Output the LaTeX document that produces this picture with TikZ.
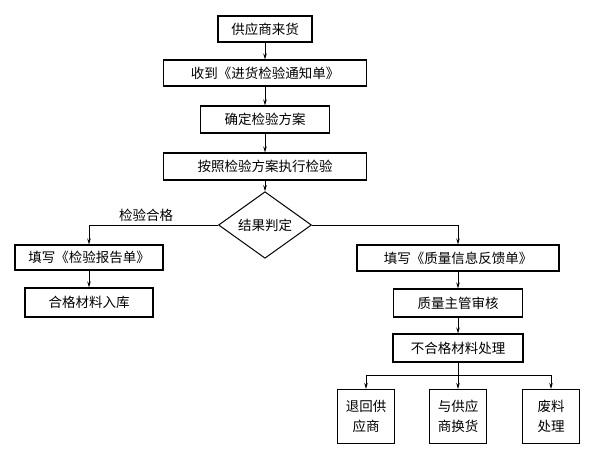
\documentclass[tikz,border=0pt]{standalone}
\usepackage{fontspec}
\setmainfont{Noto Sans CJK SC}
\usetikzlibrary{arrows.meta,shapes.geometric}
\begin{document}
\begin{tikzpicture}[x=1pt,y=-1pt,
  box/.style={draw,line width=1.1pt,inner sep=0pt,font=\fontsize{13.5}{15}\selectfont},
  sbox/.style={box,minimum width=57,minimum height=54,align=center,font=\fontsize{13.5}{20}\selectfont},
  conn/.style={draw,line width=0.7pt,-{Stealth[length=6pt,width=3.5pt]}},
  plain/.style={draw,line width=0.7pt}]
\useasboundingbox (0,0) rectangle (592,451);
\node[box,minimum width=94,minimum height=26] (b1) at (265,29) {供应商来货};
\node[box,minimum width=203,minimum height=26] (b2) at (265,73) {收到《进货检验通知单》};
\node[box,minimum width=129,minimum height=27] (b3) at (265,119.5) {确定检验方案};
\node[box,minimum width=203,minimum height=27] (b4) at (265,166.5) {按照检验方案执行检验};
\node[box,line width=1pt,shape=diamond,minimum width=93,minimum height=56] (d) at (265,225) {结果判定};
\node[box,minimum width=148,minimum height=25] (l1) at (89,257.5) {填写《检验报告单》};
\node[box,minimum width=128,minimum height=29] (l2) at (89,302.5) {合格材料入库};
\node[box,minimum width=202,minimum height=26] (r1) at (458,258) {填写《质量信息反馈单》};
\node[box,minimum width=129,minimum height=28] (r2) at (458,303) {质量主管审核};
\node[box,minimum width=130,minimum height=28] (r3) at (458,348) {不合格材料处理};
\node[sbox] (s1) at (366,416.5) {退回供\\应商};
\node[sbox] (s2) at (458,416.5) {与供应\\商换货};
\node[sbox] (s3) at (551,416.5) {废料\\处理};
\coordinate (bj) at (458,375);
\draw[conn] (b1) -- (b2);
\draw[conn] (b2) -- (b3);
\draw[conn] (b3) -- (b4);
\draw[conn] (b4) -- (d);
\draw[conn] (d.west) -| (l1.north);
\node[font=\fontsize{13.5}{15}\selectfont] (lab) at (146,215) {检验合格};
\draw[conn] (l1) -- (l2);
\draw[conn] (d.east) -| (r1.north);
\draw[conn] (r1) -- (r2);
\draw[conn] (r2) -- (r3);
\draw[plain] (r3.south) -- (bj);
\draw[conn] (bj) -| (s1.north);
\draw[conn] (bj) -| (s3.north);
\draw[conn] (bj) -- (s2.north);
\end{tikzpicture}
\end{document}
